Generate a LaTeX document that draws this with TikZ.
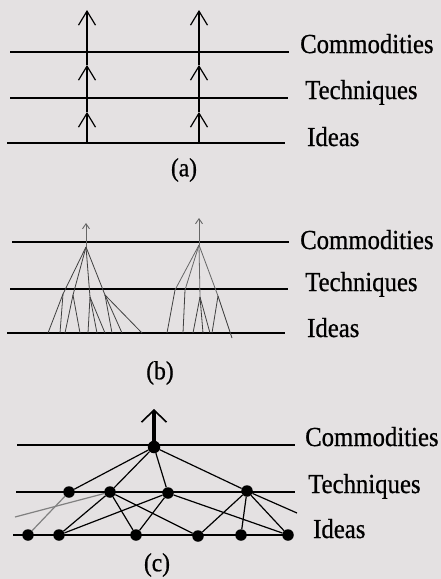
\documentclass[tikz,border=0pt]{standalone}
\usepackage{fontspec}
\setmainfont{Liberation Serif}[FakeStretch=0.9,FakeBold=0.7]
\usetikzlibrary{arrows.meta}
\definecolor{paper}{RGB}{228,225,226}
\begin{document}
\begin{tikzpicture}[x=1pt,y=-1pt,
  level/.style={line width=2pt},
  lbl/.style={anchor=base west,inner sep=0pt,font=\fontsize{27.5}{30}\selectfont},
  captxt/.style={inner sep=0pt,font=\fontsize{26}{30}\selectfont},
  uparrow/.style={line width=1.2pt,-{Straight Barb[length=14pt,width=17pt]}},
  smallarrow/.style={line width=0.9pt,black!60,-{Straight Barb[length=5pt,width=7pt]}},
  pencil/.style={line width=0.8pt,black!75},
  edge/.style={line width=1.2pt},
  greyedge/.style={line width=1.2pt,black!50},
  dot/.style={circle,fill=black,inner sep=0pt,minimum size=11.5pt},
  bigarrow/.style={line width=3.2pt,-{Straight Barb[length=12pt,width=25pt,line width=1.6pt]}}
]
\fill[paper] (0,0) rectangle (441,579);
\useasboundingbox (0,0) rectangle (441,579);

% ---------------- (a) ----------------
\coordinate (aCL) at (10,52);  \coordinate (aCR) at (289,52);
\coordinate (aTL) at (10,98);  \coordinate (aTR) at (288,98);
\coordinate (aIL) at (7,143);  \coordinate (aIR) at (285,143);
\draw[level] (aCL) -- (aCR);
\draw[level] (aTL) -- (aTR);
\draw[level] (aIL) -- (aIR);
\node[lbl] (aC) at (300,53) {Commodities};
\node[lbl] (aT) at (305,99) {Techniques};
\node[lbl] (aI) at (307,146) {Ideas};
\node[captxt] (acap) at (184,170) {(a)};
\foreach \n/\x in {1/87,2/199}{
  \coordinate (a\n b) at (\x,143);
  \coordinate (a\n m) at (\x,112);
  \coordinate (a\n n) at (\x,65);
  \coordinate (a\n t) at (\x,10);
  \draw[uparrow] (a\n b) -- (a\n m);
  \draw[uparrow] (a\n m) -- (a\n n);
  \draw[uparrow] (a\n n) -- (a\n t);
}

% ---------------- (b) ----------------
\coordinate (bCL) at (12,242); \coordinate (bCR) at (289,242);
\coordinate (bTL) at (10,289); \coordinate (bTR) at (288,289);
\coordinate (bIL) at (7,333);  \coordinate (bIR) at (285,333);
\draw[level] (bCL) -- (bCR);
\draw[level] (bTL) -- (bTR);
\draw[level] (bIL) -- (bIR);
\node[lbl] (bC) at (300,249) {Commodities};
\node[lbl] (bT) at (305,291) {Techniques};
\node[lbl] (bI) at (307,337) {Ideas};
\node[captxt] (bcap) at (160,373) {(b)};
% tree 1
\coordinate (A1) at (86,247); \coordinate (A1top) at (86,223);
\draw[smallarrow] (A1) -- (A1top);
\coordinate (t1) at (63,294); \coordinate (t2) at (73,295);
\coordinate (t3) at (90,297); \coordinate (t4) at (105,295);
\foreach \t in {t1,t2,t3,t4} \draw[pencil] (A1) -- (\t);
\foreach \t/\x in {t1/48,t1/60,t2/65,t2/80,t3/88,t3/97,t3/105,t4/112,t4/122,t4/142}{
  \coordinate (e) at (\x,333);
  \draw[pencil] (\t) -- (e);
}
% tree 2
\coordinate (A2) at (199,245); \coordinate (A2top) at (199,218);
\draw[smallarrow] (A2) -- (A2top);
\coordinate (s1) at (175,290); \coordinate (s2) at (185,290);
\coordinate (s3) at (200,297); \coordinate (s4) at (218,296);
\foreach \t in {s1,s2,s3,s4} \draw[pencil,black!60] (A2) -- (\t);
\foreach \t/\x/\y in {s1/167/333,s2/183/333,s3/193/333,s3/203/333,s3/210/333,s4/212/333,s4/232/338}{
  \coordinate (e) at (\x,\y);
  \draw[pencil] (\t) -- (e);
}

% ---------------- (c) ----------------
\coordinate (cCL) at (17,445); \coordinate (cCR) at (295,445);
\coordinate (cTL) at (16,492); \coordinate (cTR) at (295,492);
\coordinate (cIL) at (13,535); \coordinate (cIR) at (290,535);
\draw[level] (cCL) -- (cCR);
\draw[level] (cTL) -- (cTR);
\draw[level] (cIL) -- (cIR);
\node[lbl] (cC) at (305,446) {Commodities};
\node[lbl] (cT) at (308,493) {Techniques};
\node[lbl] (cI) at (313,538) {Ideas};
\node[captxt] (ccap) at (157,565) {(c)};

\node[dot,minimum size=12.5pt] (cA) at (154,447) {};
\node[dot] (T1) at (69,492) {};
\node[dot] (T2) at (110,492) {};
\node[dot] (T3) at (168,493) {};
\node[dot] (T4) at (247,491) {};
\node[dot] (I1) at (28,535) {};
\node[dot] (I2) at (59,535) {};
\node[dot] (I3) at (136,535) {};
\node[dot] (I4) at (198,536) {};
\node[dot] (I5) at (241,535) {};
\node[dot] (I6) at (288,535) {};
\coordinate (F1) at (15,517);
\coordinate (F2) at (297,513);
\coordinate (cTop) at (154,409);

\draw[bigarrow] (cA.center) -- (cTop);
\foreach \t in {T1,T2,T3,T4} \draw[edge] (cA) -- (\t);
\draw[greyedge] (T1) -- (I1);
\draw[greyedge] (F1) -- (T2);
\draw[edge] (T2) -- (I2);
\draw[edge] (T2) -- (I3);
\draw[edge] (T2) -- (I4);
\draw[edge] (T3) -- (I2);
\draw[edge] (T3) -- (I3);
\draw[edge] (T3) -- (I6);
\draw[edge] (T4) -- (I4);
\draw[edge] (T4) -- (I5);
\draw[edge] (T4) -- (I6);
\draw[edge] (T4) -- (F2);
\end{tikzpicture}
\end{document}
